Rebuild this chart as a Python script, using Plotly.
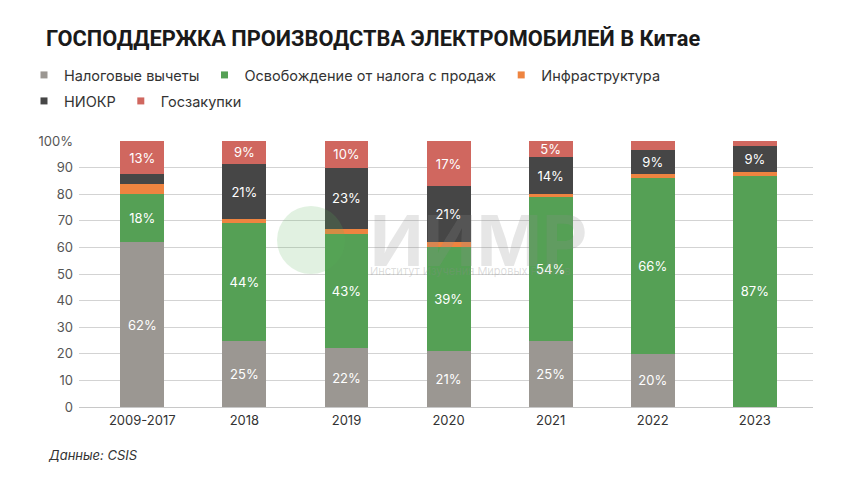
import plotly.graph_objects as go

years = ["2009-2017", "2018", "2019", "2020", "2021", "2022", "2023"]

tax_deductions = [62, 25, 22, 21, 25, 20, 0]
sales_tax_exempt = [18, 44, 43, 39, 54, 66, 87]
infrastructure = [4, 1.5, 2, 2, 1, 1.5, 1.5]
rnd = [3.5, 21, 23, 21, 14, 9, 9.5]
procurement = [12.5, 8.5, 10, 17, 6, 3.5, 2]

tax_labels = ["62%", "25%", "22%", "21%", "25%", "20%", ""]
exempt_labels = ["18%", "44%", "43%", "39%", "54%", "66%", "87%"]
rnd_labels = ["", "21%", "23%", "21%", "14%", "9%", "9%"]
proc_labels = ["13%", "9%", "10%", "17%", "5%", "", ""]

y_ticks = [0, 10, 20, 30, 40, 50, 60, 70, 80, 90, 100]
y_tick_text = ["0", "10", "20", "30", "40", "50", "60", "70", "80", "90", "100%"]

FONT = "Inter"

series = [
    ("Налоговые вычеты", tax_deductions, tax_labels, "#9b9792", "legend"),
    ("Освобождение от налога с продаж", sales_tax_exempt, exempt_labels, "#55a055", "legend"),
    ("Инфраструктура", infrastructure, None, "#ee8440", "legend"),
    ("НИОКР", rnd, rnd_labels, "#464646", "legend2"),
    ("Госзакупки", procurement, proc_labels, "#d0675f", "legend2"),
]

fig = go.Figure()
for name, vals, labels, color, leg in series:
    fig.add_trace(go.Bar(
        x=years, y=vals, name=name, marker_color=color, marker_line_width=0,
        text=labels, textposition="inside" if labels else "none",
        insidetextanchor="middle", textangle=0, constraintext="none",
        textfont=dict(family=FONT, size=13, color="white"),
        hoverinfo="x+y+name", showlegend=False,
    ))
    # small square legend markers
    fig.add_trace(go.Scatter(
        x=[None], y=[None], mode="markers", name=name, legend=leg,
        marker=dict(symbol="square", size=7, color=color),
    ))

legend_style = dict(
    orientation="h", xref="container", yref="container",
    x=24 / 860, xanchor="left", yanchor="middle", traceorder="normal",
    font=dict(family=FONT, size=14.5, color="#333333"),
    itemwidth=30, itemclick=False,
)

fig.update_layout(
    width=860, height=484,
    barmode="stack", bargap=0.57,
    plot_bgcolor="white", paper_bgcolor="white",
    margin=dict(l=79, r=47, t=141, b=77),
    font=dict(family=FONT, color="#333333"),
    title=dict(
        text="<b>ГОСПОДДЕРЖКА ПРОИЗВОДСТВА ЭЛЕКТРОМОБИЛЕЙ В Китае</b>",
        x=46 / 860, xanchor="left", y=1 - 38 / 484, yanchor="middle",
        font=dict(family="Roboto", size=21.8, color="#1a1a1a"),
    ),
    legend=dict(legend_style, y=1 - 75 / 484),
    legend2=dict(legend_style, y=1 - 101 / 484),
    xaxis=dict(
        range=[-0.62, 6.57], showgrid=False, showline=False, ticks="",
        ticklabelstandoff=4,
        tickfont=dict(family=FONT, size=13, color="#333333"),
    ),
    yaxis=dict(
        range=[0, 100], tickvals=y_ticks, ticktext=y_tick_text,
        showgrid=True, gridcolor="#d3d3d3", gridwidth=1,
        zeroline=True, zerolinecolor="#c8c8c8", zerolinewidth=1,
        ticks="", ticklabelstandoff=5,
        tickfont=dict(family=FONT, size=13, color="#555555"),
    ),
    annotations=[
        dict(text="<i>Данные: CSIS</i>", xref="paper", yref="paper",
             x=-33 / 734, y=-48 / 266, xanchor="left", yanchor="middle",
             showarrow=False, font=dict(family=FONT, size=13, color="#333333")),
        # faint watermark
        dict(text="<b>ИИМР</b>", xref="paper", yref="paper",
             x=(478 - 79) / 734, y=(407 - 240) / 266,
             xanchor="center", yanchor="middle", showarrow=False,
             font=dict(family=FONT, size=70, color="rgba(140,140,140,0.22)")),
        dict(text="Институт Изучения Мировых Рынков", xref="paper", yref="paper",
             x=(470 - 79) / 734, y=(407 - 271) / 266,
             xanchor="center", yanchor="middle", showarrow=False,
             font=dict(family=FONT, size=11, color="rgba(140,140,140,0.3)")),
    ],
    shapes=[
        dict(type="circle", xref="paper", yref="paper",
             x0=(277 - 79) / 734, x1=(345 - 79) / 734,
             y0=(407 - 274) / 266, y1=(407 - 206) / 266,
             fillcolor="rgba(90,175,90,0.18)", line_width=0, layer="above"),
    ],
)

fig.write_html("out.html", config={"displayModeBar": False},
               post_script="document.body.style.margin='0';")
